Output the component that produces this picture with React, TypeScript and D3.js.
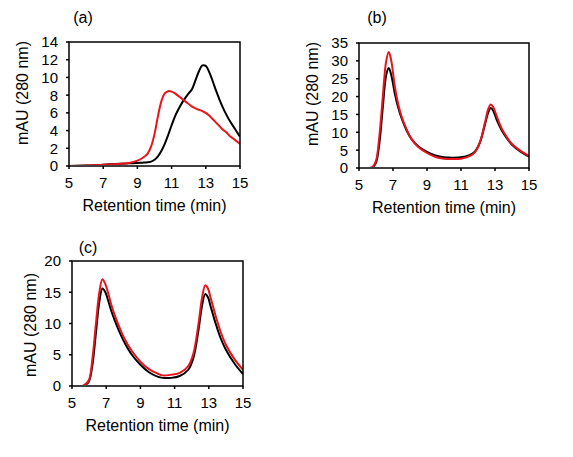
import React from "react";
import * as d3 from "d3";

// Retention times (min) sampled for each panel
const timesA = [5, 6, 7, 8, 8.5, 9, 9.3, 9.6, 9.8, 10, 10.2, 10.4, 10.6, 10.8, 11, 11.2, 11.4, 11.6, 11.8, 12, 12.2, 12.4, 12.6, 12.8, 13, 13.2, 13.4, 13.6, 13.8, 14, 14.2, 14.4, 14.6, 14.8, 15];
const blackA = [0, 0.05, 0.15, 0.25, 0.3, 0.35, 0.38, 0.42, 0.5, 0.7, 1.1, 1.7, 2.5, 3.5, 4.6, 5.6, 6.4, 7.1, 7.7, 8.2, 8.7, 9.7, 10.7, 11.35, 11.3, 10.6, 9.6, 8.5, 7.5, 6.6, 5.8, 5.1, 4.5, 3.9, 3.3];
const redA = [0, 0.05, 0.15, 0.25, 0.35, 0.6, 0.9, 1.4, 2.2, 3.6, 5.6, 7.3, 8.2, 8.45, 8.4, 8.2, 7.9, 7.6, 7.3, 7.0, 6.7, 6.5, 6.35, 6.2, 6.0, 5.7, 5.3, 4.9, 4.5, 4.1, 3.8, 3.4, 3.1, 2.8, 2.5];

const timesB = [5, 5.6, 5.8, 6, 6.2, 6.4, 6.6, 6.75, 6.9, 7.1, 7.3, 7.5, 7.8, 8.1, 8.5, 9, 9.5, 10, 10.5, 11, 11.5, 11.8, 12.1, 12.4, 12.6, 12.75, 12.9, 13.1, 13.4, 13.7, 14, 14.5, 15];
const blackB = [0, 0, 0.2, 1.5, 7, 17, 26, 28, 26, 21, 17, 14, 10.5, 8, 6, 4.5, 3.5, 3, 2.9, 3, 3.6, 4.5, 7, 12, 15.5, 16.8, 16, 13.5, 10.5, 8.3, 6.5, 4.6, 3.2];
const redB = [0, 0, 0.3, 2, 9, 20, 30, 32.5, 30, 23, 18, 14.5, 10.8, 8, 5.8, 4.2, 3.1, 2.6, 2.5, 2.6, 3.3, 4.3, 7, 12.5, 16.5, 17.8, 17, 14.5, 11, 8.6, 6.7, 4.8, 3.4];

const timesC = [5, 5.6, 5.8, 6, 6.2, 6.4, 6.6, 6.78, 6.95, 7.1, 7.3, 7.5, 7.8, 8.1, 8.5, 9, 9.5, 10, 10.3, 10.8, 11.3, 11.8, 12.1, 12.4, 12.6, 12.79, 12.95, 13.1, 13.4, 13.7, 14, 14.5, 15];
const blackC = [0, 0, 0.2, 0.8, 3.5, 8.5, 13.5, 15.6, 15, 13.8, 12, 10.5, 8.5, 6.8, 5, 3.4, 2.2, 1.5, 1.3, 1.3, 1.6, 2.6, 4.5, 9, 12.8, 14.7, 14.2, 12.8, 10, 7.6, 5.8, 3.6, 1.9];
const redC = [0, 0, 0.3, 1, 4.5, 10, 15, 17.1, 16.3, 15, 13, 11.3, 9.2, 7.4, 5.6, 3.9, 2.7, 2, 1.7, 1.8, 2.1, 3.2, 5.2, 10, 14, 16.1, 15.6, 14.2, 11.2, 8.6, 6.6, 4.3, 2.6];

const xTicks = [5, 7, 9, 11, 13, 15];
const yTicksA = [0, 2, 4, 6, 8, 10, 12, 14];
const yTicksB = [0, 5, 10, 15, 20, 25, 30, 35];
const yTicksC = [0, 5, 10, 15, 20];

const RED = "#e8131b";
const FONT = "'Liberation Sans', Arial, sans-serif";

type PanelProps = {
  label: string;
  left: number;
  right: number;
  top: number;
  bottom: number;
  yMax: number;
  yTicks: number[];
  times: number[];
  black: number[];
  red: number[];
  labelX: number;
  labelY: number;
  yTitleY: number;
  yTitleX: number;
};

function Panel(p: PanelProps) {
  const x = d3.scaleLinear().domain([5, 15]).range([p.left, p.right]);
  const y = d3.scaleLinear().domain([0, p.yMax]).range([p.bottom, p.top]);
  const line = (vals: number[]) =>
    d3
      .line<number>()
      .x((_, i) => x(p.times[i]))
      .y((v) => y(v))
      .curve(d3.curveCatmullRom.alpha(0.5))(vals) || "";
  const clipId = `clip-${p.label.replace(/[()]/g, "")}`;
  return (
    <g fontFamily={FONT} fill="#000">
      <defs>
        <clipPath id={clipId}>
          <rect x={p.left} y={p.top - 2} width={p.right - p.left} height={p.bottom - p.top + 1} />
        </clipPath>
      </defs>
      <text x={p.labelX} y={p.labelY} fontSize={16} textAnchor="middle">
        {p.label}
      </text>
      <g clipPath={`url(#${clipId})`}>
        <path d={line(p.black)} fill="none" stroke="#000" strokeWidth={2} />
        <path d={line(p.red)} fill="none" stroke={RED} strokeWidth={2} />
      </g>
      <rect
        x={p.left}
        y={p.top}
        width={p.right - p.left}
        height={p.bottom - p.top}
        fill="none"
        stroke="#000"
        strokeWidth={1.5}
      />
      {p.yTicks.map((t) => (
        <g key={`y${t}`}>
          <line x1={p.left - 3} x2={p.left} y1={y(t)} y2={y(t)} stroke="#000" strokeWidth={1.5} />
          <text x={p.left - 11} y={y(t)} dy="0.36em" fontSize={15} textAnchor="end">
            {t}
          </text>
        </g>
      ))}
      {xTicks.map((t) => (
        <g key={`x${t}`}>
          <line x1={x(t)} x2={x(t)} y1={p.bottom} y2={p.bottom + 3} stroke="#000" strokeWidth={1.5} />
          <text x={x(t)} y={p.bottom + 22} fontSize={15} textAnchor="middle">
            {t}
          </text>
        </g>
      ))}
      <text x={(p.left + p.right) / 2} y={p.bottom + 45} fontSize={16} textAnchor="middle">
        Retention time (min)
      </text>
      <text
        transform={`translate(${p.yTitleX},${p.yTitleY}) rotate(-90)`}
        fontSize={16}
        textAnchor="middle"
      >
        mAU (280 nm)
      </text>
    </g>
  );
}

export default function App() {
  return (
    <svg
      width={573}
      height={457}
      style={{ position: "absolute", left: 0, top: 0, background: "#fff" }}
    >
      <rect width={573} height={457} fill="#fff" />
      <Panel
        label="(a)"
        left={69}
        right={240}
        top={42}
        bottom={166}
        yMax={14}
        yTicks={yTicksA}
        times={timesA}
        black={blackA}
        red={redA}
        labelX={83}
        labelY={23}
        yTitleX={28}
        yTitleY={93}
      />
      <Panel
        label="(b)"
        left={359}
        right={529}
        top={43}
        bottom={168}
        yMax={35}
        yTicks={yTicksB}
        times={timesB}
        black={blackB}
        red={redB}
        labelX={377}
        labelY={23}
        yTitleX={318}
        yTitleY={94}
      />
      <Panel
        label="(c)"
        left={72}
        right={243}
        top={261}
        bottom={386}
        yMax={20}
        yTicks={yTicksC}
        times={timesC}
        black={blackC}
        red={redC}
        labelX={88}
        labelY={253}
        yTitleX={36}
        yTitleY={325}
      />
    </svg>
  );
}
